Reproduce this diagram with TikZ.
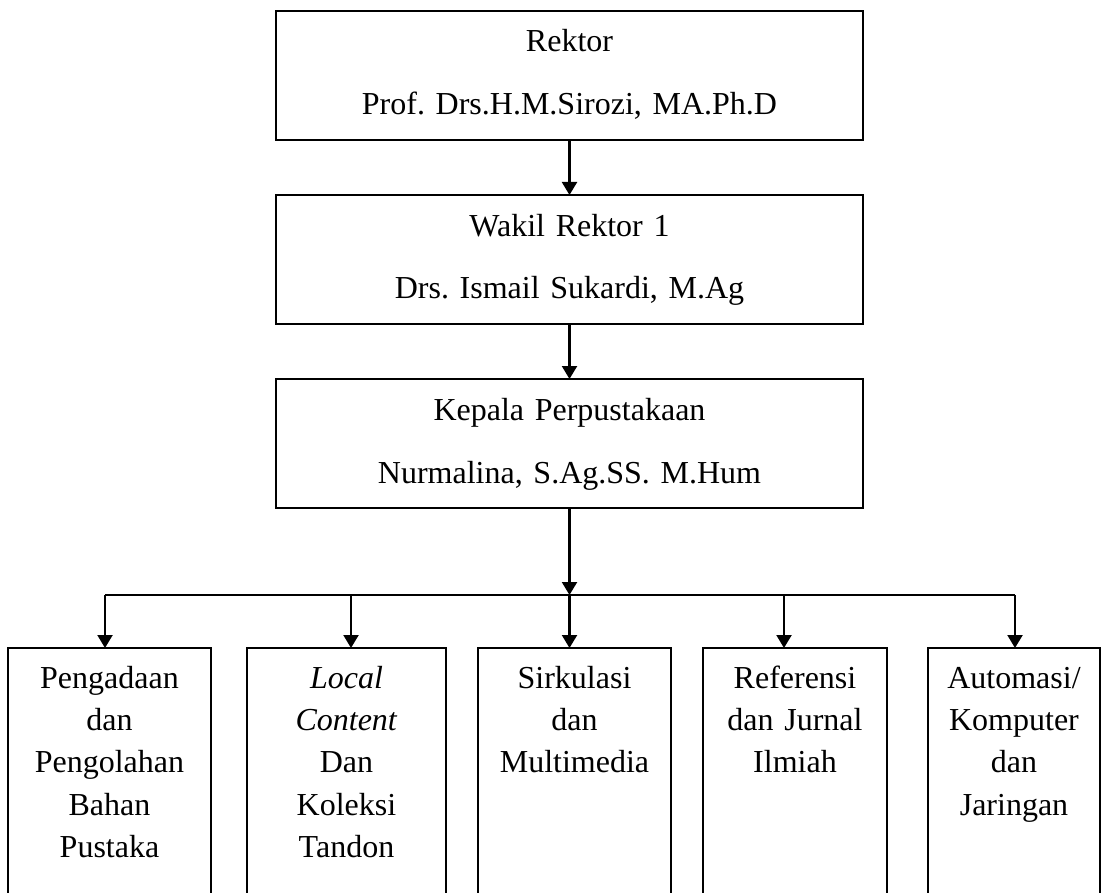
\documentclass[tikz,border=0pt]{standalone}
\usepackage{fontspec}
\setmainfont{Liberation Serif}
\frenchspacing
\usetikzlibrary{positioning}
\usetikzlibrary{arrows.meta}
\tikzset{
  office/.style={draw, text width=280pt, align=center, inner xsep=6.75pt, inner ysep=9.5pt, outer sep=0pt, text height=11pt, text depth=34.5pt, font=\fontsize{16pt}{31.5pt}\selectfont},
  dept/.style={draw, text width=#1, align=center, inner xsep=2pt, inner ysep=9pt, outer sep=0pt, text height=11pt, text depth=200pt, font=\fontsize{16pt}{21.2pt}\selectfont}
}
\begin{document}
\begin{tikzpicture}[x=0.5pt,y=-0.5pt,line width=1.1pt,>={Triangle[length=6.5pt,width=7.5pt]}]
\useasboundingbox (0,0) rectangle (1102,893);
\clip (0,0) rectangle (1102,893);
\node (rektor) [office] at (569.5,75.5) {Rektor\\Prof. Drs.H.M.Sirozi, MA.Ph.D};
\node (wakil) [office, below=27.5pt of rektor] {Wakil Rektor 1\\Drs. Ismail Sukardi, M.Ag};
\node (kepala) [office, below=27.5pt of wakil] {Kepala Perpustakaan\\Nurmalina, S.Ag.SS. M.Hum};
\node (p1) [dept=97.5pt, anchor=north] at (109.5,648) {Pengadaan\\dan\\Pengolahan\\Bahan\\Pustaka};
\node (p2) [dept=95.5pt, right=18pt of p1] {\textit{Local}\\\textit{Content}\\Dan\\Koleksi\\Tandon};
\node (p3) [dept=92.5pt, right=16pt of p2] {Sirkulasi\\dan\\Multimedia};
\node (p4) [dept=88pt, right=16pt of p3] {Referensi\\dan Jurnal\\Ilmiah};
\node (p5) [dept=82pt, right=20.5pt of p4] {Automasi/\\Komputer\\dan\\Jaringan};
\coordinate (j1) at (105,595); \coordinate (j2) at (351,595); \coordinate (j3) at (569.5,595);
\coordinate (j4) at (784,595); \coordinate (j5) at (1015,595);
\draw[->] (rektor) -- (wakil); \draw[->] (wakil) -- (kepala);
\draw[->] (kepala) -- (j3);
\draw (j1) -- (j5);
\draw[->] (j1) -- (j1 |- p1.north); \draw[->] (j2) -- (j2 |- p2.north); \draw[->] (j3) -- (j3 |- p3.north);
\draw[->] (j4) -- (j4 |- p4.north); \draw[->] (j5) -- (j5 |- p5.north);
\end{tikzpicture}
\end{document}
